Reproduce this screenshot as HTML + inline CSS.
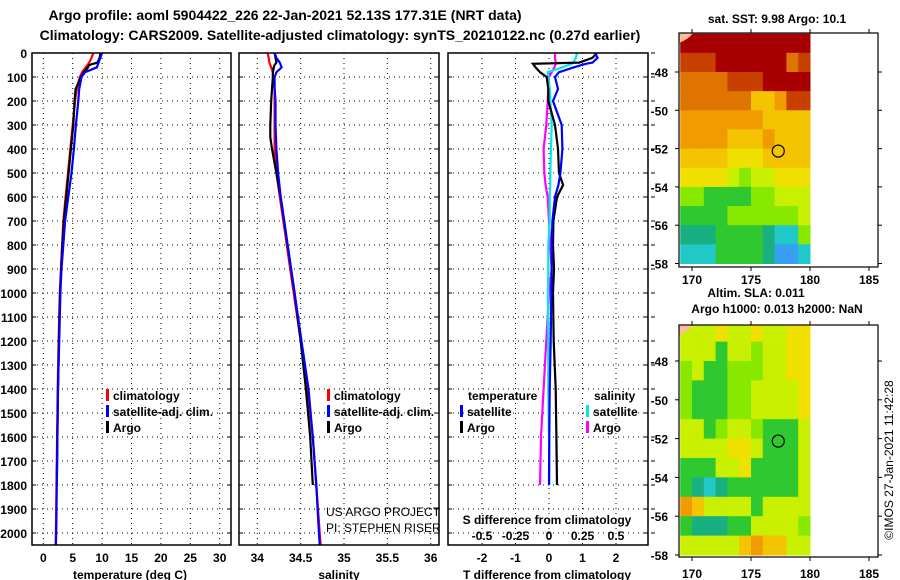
<!DOCTYPE html>
<html><head><meta charset="utf-8">
<style>
html,body{margin:0;padding:0;background:#fff;}
svg{display:block;font-family:"Liberation Sans",Arial,sans-serif;}
.t{font-weight:bold;font-size:12px;}
</style></head>
<body>
<svg id="chart" width="900" height="580" viewBox="0 0 900 580" xmlns="http://www.w3.org/2000/svg">
<text x="285" y="20" text-anchor="middle" font-weight="bold" font-size="14">Argo profile: aoml 5904422_226 22-Jan-2021 52.13S 177.31E (NRT data)</text>
<text x="340" y="40" text-anchor="middle" font-weight="bold" font-size="14">Climatology: CARS2009. Satellite-adjusted climatology: synTS_20210122.nc (0.27d earlier)</text>
<g id="layer"></g>
</svg>
<script>
// ---------- data ----------
const depthTicks=[0,100,200,300,400,500,600,700,800,900,1000,1100,1200,1300,1400,1500,1600,1700,1800,1900,2000];
const tempTicks=[0,5,10,15,20,25,30];
const salTicks=[34,34.5,35,35.5,36];
const tdiffTicks=[-2,-1,0,1,2];
const sdiffTicks=[-0.5,-0.25,0,0.25,0.5];

const climDepth=[0,20,40,60,80,100,150,200,300,400,500,600,700,800,900,1000,1200,1400,1600,1800,2000,2050];
const tempClim=[8.5,8.2,7.8,7.2,6.6,6.2,5.7,5.4,5.0,4.6,4.2,3.8,3.4,3.2,3.0,2.8,2.6,2.45,2.35,2.25,2.15,2.1];
const tempSat=[10.0,9.7,9.4,9.1,7.1,6.5,6.1,5.95,5.55,5.2,4.8,4.25,3.7,3.4,3.1,2.9,2.7,2.5,2.4,2.3,2.2,2.15];
const salClim=[34.12,34.13,34.14,34.16,34.18,34.18,34.2,34.2,34.2,34.2,34.22,34.26,34.3,34.34,34.38,34.42,34.5,34.58,34.64,34.68,34.72,34.73];
const salSat=[34.2,34.22,34.26,34.28,34.22,34.2,34.2,34.21,34.21,34.22,34.24,34.27,34.31,34.35,34.39,34.43,34.51,34.59,34.64,34.68,34.71,34.72];

const argoDepth=[0,20,40,50,60,80,100,150,200,300,350,400,500,600,700,800,900,1000,1200,1400,1600,1800];
const tempArgo=[9.7,9.6,9.2,7.8,7.6,6.9,6.4,5.5,5.3,5.1,4.9,4.7,4.3,3.9,3.5,3.25,3.05,2.85,2.65,2.5,2.4,2.3];
const salArgo=[34.2,34.21,34.22,34.2,34.19,34.18,34.18,34.17,34.16,34.15,34.15,34.17,34.22,34.27,34.31,34.35,34.39,34.43,34.5,34.56,34.61,34.64];

const diffDepth=[0,20,40,45,60,80,100,150,200,300,400,500,550,600,700,800,900,1000,1200,1400,1600,1800];
const tdiffArgo=[1.43,1.3,0.9,-0.48,-0.4,-0.27,-0.07,-0.02,-0.02,0.18,0.27,0.3,0.42,0.24,0.13,0.12,0.15,0.12,0.14,0.2,0.22,0.24];
const tdiffSat=[1.37,1.45,1.3,1.1,0.73,0.3,0.18,0.27,0.12,0.38,0.4,0.34,0.28,0.18,0.1,0.08,0.08,0.07,0.05,0.02,0.01,0.0];
const sdiffArgo=[0.045,0.045,0.05,0.05,0.04,0.02,0.0,-0.005,-0.01,-0.02,-0.04,-0.035,-0.025,-0.01,0.0,0.01,0.02,0.0,-0.02,-0.04,-0.06,-0.067];
const sdiffSat=[0.21,0.2,0.18,0.17,0.1,-0.01,-0.005,0.005,0.01,0.02,0.015,0.01,0.01,0.005,0.005,-0.005,-0.005,-0.008,-0.005,-0.005,0,0.002];

const latTicks=[-48,-50,-52,-54,-56,-58];
const lonTicks=[170,175,180,185];
const floatLon=177.31, floatLat=-52.13;
// map colour grids: rows lat -46..-58 (1 deg), cols lon 169..180 (1 deg), hex palette index
const sstGrid=["00000000000","11100000021","22221110000","22222244311","33333334444","33334443444","44445554444","55556766555","77888877666","88887777776","99988889aa7","aaa88889bba"];
const slaGrid=["66656656655","66686676655","76887776655","78887766665","78887766665","66876678886","66665568886","88866588886","89a98888886","34666686666","89998866667","66666434466"];
const palette=["#a80000","#c84000","#e07400","#f09c00","#f4c400","#f0e000","#c8f000","#88e800","#30c830","#18b080","#20c8c8","#38a0f0"];

// ---------- helpers ----------
const NS="http://www.w3.org/2000/svg";
const layer=document.getElementById('layer');
function mk(tag,attrs,parent){const e=document.createElementNS(NS,tag);for(const k in attrs)e.setAttribute(k,attrs[k]);(parent||layer).appendChild(e);return e;}
const TOP=53,BOT=545;
const yD=d=>53+d*0.24;
const xT=v=>43.3+v*5.88;
const xS=v=>257.3+(v-34)*86.7;
const xTD=v=>549+v*33.5;
const xSD=v=>549+v*134;

function frame(x0,x1,name){
  const r=mk('rect',{x:x0,y:TOP,width:x1-x0,height:BOT-TOP,fill:'none',stroke:'#000','stroke-width':1.5});
  
  
}
function hgrid(x0,x1,labels){
  depthTicks.forEach(d=>{
    const y=yD(d);
    const l=mk('line',{x1:x0,x2:x1,y1:y,y2:y,stroke:'#000','stroke-dasharray':'1,4'});
    
    
    mk('line',{x1:x0,x2:x0+4,y1:y,y2:y,stroke:'#000'});
    mk('line',{x1:x1-4,x2:x1,y1:y,y2:y,stroke:'#000'});
    if(labels){
      const t=mk('text',{x:27,y:y+5,'text-anchor':'end','class':'t'});t.textContent=d;
      
      
    }
  });
}
function vgrid(ticks,fx,labelY,fmt){
  ticks.forEach(v=>{
    const x=fx(v);
    const l=mk('line',{x1:x,x2:x,y1:TOP,y2:BOT,stroke:'#000','stroke-dasharray':'1,4'});
    
    
    if(labelY){
      const t=mk('text',{x:x,y:labelY,'text-anchor':'middle','class':'t'});t.textContent=fmt?fmt(v):v;
      
      
    }
  });
}
function line(depths,vals,fx,color,name){
  const pts=depths.map((d,i)=>fx(vals[i]).toFixed(1)+','+yD(d).toFixed(1)).join(' ');
  const p=mk('polyline',{points:pts,fill:'none',stroke:color,'stroke-width':2.2,'stroke-linejoin':'miter'});
  
  
}
function txt(x,y,s,name,extra){
  const t=mk('text',Object.assign({x:x,y:y,'class':'t'},extra||{}));t.textContent=s;
  
  
  return t;
}
function legendMark(x,y,color){
  const r=mk('rect',{x:x,y:y-11,width:3,height:12,fill:color});
  
  
}

// ---------- panel 1: temperature ----------
hgrid(32,231,true);
vgrid(tempTicks,xT,562);
line(climDepth,tempClim,xT,'#ff0000','temp-climatology-line');
line(argoDepth,tempArgo,xT,'#000','temp-argo-line');
line(climDepth,tempSat,xT,'#0000ff','temp-satellite-line');
frame(32,231,'temperature-panel-frame');
txt(130,579,'temperature (deg C)','temperature-axis-title',{'text-anchor':'middle'});
legendMark(106,400,'#ff0000');txt(113,400,'climatology','legend-climatology');
legendMark(106,416,'#0000ff');txt(113,416,'satellite-adj. clim.','legend-satellite');
legendMark(106,432,'#000');txt(113,432,'Argo','legend-argo');

// ---------- panel 2: salinity ----------
hgrid(239,439,false);
vgrid(salTicks,xS,562);
line(climDepth,salClim,xS,'#ff0000','sal-climatology-line');
line(argoDepth,salArgo,xS,'#000','sal-argo-line');
line(climDepth,salSat,xS,'#0000ff','sal-satellite-line');
frame(239,439,'salinity-panel-frame');
txt(339,579,'salinity','salinity-axis-title',{'text-anchor':'middle'});
legendMark(327,400,'#ff0000');txt(334,400,'climatology','legend-climatology-2');
legendMark(327,416,'#0000ff');txt(334,416,'satellite-adj. clim.','legend-satellite-2');
legendMark(327,432,'#000');txt(334,432,'Argo','legend-argo-2');
txt(326,516,'US ARGO PROJECT','project-label',{'class':'','font-size':'12'});
txt(326,532,'PI: STEPHEN RISER','pi-label',{'class':'','font-size':'12'});

// ---------- panel 3: differences ----------
hgrid(448,648,false);
vgrid(tdiffTicks,xTD,562);
line(diffDepth,sdiffArgo,xSD,'#ff00ff','sdiff-argo-line');
line(diffDepth,sdiffSat,xSD,'#00e8e8','sdiff-satellite-line');
line(diffDepth,tdiffArgo,xTD,'#000','tdiff-argo-line');
line(diffDepth,tdiffSat,xTD,'#0000ff','tdiff-satellite-line');
frame(448,648,'difference-panel-frame');
depthTicks.forEach(d=>{mk('line',{x1:651,x2:655,y1:yD(d),y2:yD(d),stroke:'#000'});});
txt(547,579,'T difference from climatology','tdiff-axis-title',{'text-anchor':'middle'});
txt(547,524,'S difference from climatology','sdiff-axis-title',{'text-anchor':'middle'});
sdiffTicks.forEach(v=>{txt(xSD(v),540,String(v),'sdiff-tick-label',{'text-anchor':'middle'});});
txt(468,400,'temperature','legend-temperature-header');
legendMark(460,416,'#0000ff');txt(467,416,'satellite','legend-tdiff-satellite');
legendMark(460,432,'#000');txt(467,432,'Argo','legend-tdiff-argo');
txt(594,400,'salinity','legend-salinity-header');
legendMark(586,416,'#00e8e8');txt(593,416,'satellite','legend-sdiff-satellite');
legendMark(586,432,'#ff00ff');txt(593,432,'Argo','legend-sdiff-argo');

// ---------- maps ----------
function drawMap(grid,y0,y1,latY0,latScale,name,lonLabelY){
  const g=mk('g',{});
  
  
  const xL=lon=>692+(lon-170)*11.8;
  const yL=lat=>latY0+(-48-lat)*latScale;
  const cp=mk('clipPath',{id:name+'-clip'},g);
  mk('rect',{x:679,y:y0,width:199,height:y1-y0},cp);
  const cg=mk('g',{'clip-path':'url(#'+name+'-clip)'},g);
  grid.forEach((row,r)=>{
    for(let c=0;c<row.length;c++){
      const lat=-46-r, lon=169+c;
      const x0=xL(lon), x1=Math.min(xL(lon+1),812);
      const cell=mk('rect',{x:x0,y:yL(lat),width:x1-x0+0.5,height:latScale+0.5,fill:palette[parseInt(row[c],16)]},cg);
      
      
    }
  });
  mk('path',{d:`M679 ${y0} h14 q-4 6 -14 10 z`,fill:'#f8c098'},cg);
  const circ=mk('circle',{cx:xL(floatLon),cy:yL(floatLat),r:6,fill:'none',stroke:'#000','stroke-width':1.2},g);
  
  
  mk('rect',{x:679,y:y0,width:199,height:y1-y0,fill:'none',stroke:'#000','stroke-width':1.2},g);
  latTicks.forEach(lat=>{
    const y=yL(lat);
    mk('line',{x1:675,x2:679,y1:y,y2:y,stroke:'#000'},g);
    mk('line',{x1:878,x2:882,y1:y,y2:y,stroke:'#000'},g);
    const t=mk('text',{x:668,y:y+5,'text-anchor':'end','class':'t'},g);t.textContent=lat;
    
    
  });
  lonTicks.forEach(lon=>{
    const x=xL(lon);
    mk('line',{x1:x,x2:x,y1:y1,y2:y1+4,stroke:'#000'},g);
    mk('line',{x1:x,x2:x,y1:y0-4,y2:y0,stroke:'#000'},g);
    const t=mk('text',{x:x,y:lonLabelY,'text-anchor':'middle','class':'t'},g);t.textContent=lon;
    
    
  });
}
drawMap(sstGrid,33,267,72,19.15,'sst-map',284);
drawMap(slaGrid,325,557,361,19.4,'sla-map',578);
txt(777,23,'sat. SST: 9.98 Argo: 10.1','sst-map-title',{'text-anchor':'middle'});
txt(756,297,'Altim. SLA: 0.011','sla-title',{'text-anchor':'middle'});
txt(777,313,'Argo h1000: 0.013 h2000: NaN','sla-map-title',{'text-anchor':'middle'});
const cr=mk('text',{x:0,y:0,'font-size':'12',transform:'translate(893,460) rotate(-90)','text-anchor':'middle'});
cr.textContent='©IMOS 27-Jan-2021 11:42:28';


</script>
</body></html>
